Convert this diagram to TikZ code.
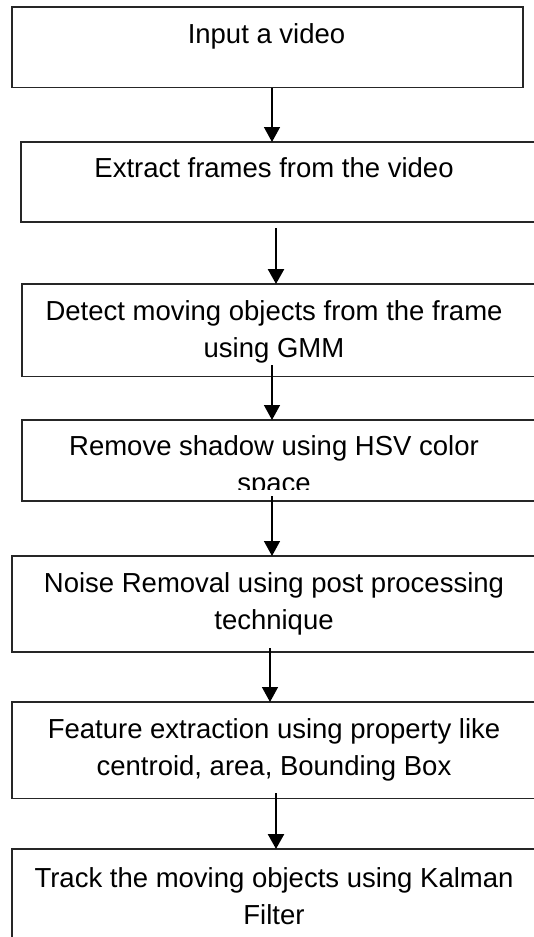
\documentclass[tikz,border=0pt]{standalone}
\usepackage{fontspec}
\setmainfont{Liberation Sans}
\usetikzlibrary{arrows.meta,positioning}

\begin{document}
\begin{tikzpicture}[x=1pt, y=-1pt, >={Triangle[width=16pt,length=15pt]},
    stepbox/.style={draw=black!85, line width=1.1pt, anchor=north west, outer sep=0pt, inner sep=0pt, minimum width=530pt},
    steptext/.style={anchor=base, align=center, inner sep=0pt, font=\fontsize{27.5}{37}\selectfont},
    flow/.style={->, line width=1.5pt},
    flowthick/.style={->, line width=2.5pt}]
    \useasboundingbox[fill=white] (0,0) rectangle (533,937);

    % Boxes
    \node[stepbox, minimum width=511pt, minimum height=80.5pt] (input) at (12,7) {};
    \node[stepbox, minimum height=80pt] (extract) at (21,142) {};
    \node[stepbox, minimum height=92.5pt] (detect) at (22,284) {};
    \node[stepbox, minimum height=81pt] (shadow) at (22,420) {};
    \node[stepbox, minimum height=96pt] (noise) at (12,556) {};
    \node[stepbox, minimum height=96.5pt] (feature) at (12,702) {};
    \node[stepbox, minimum height=120pt] (track) at (12,849) {};

    % Texts (base sits on the last line)
    \node[steptext] (inputtxt) at (266.5,43) {Input a video};
    \node[steptext] (extracttxt) at (274,177) {Extract frames from the video};
    \node[steptext] (detecttxt) at (274,357) {Detect moving objects from the frame\\using GMM};
    \begin{scope}
      \clip (0,420) rectangle (533,489);
      \node[steptext] (shadowtxt) at (274,492) {Remove shadow using HSV color\\space};
    \end{scope}
    \node[steptext] (noisetxt) at (274,629) {Noise Removal using post processing\\technique};
    \node[steptext] (featuretxt) at (274,775) {Feature extraction using property like\\centroid, area, Bounding Box};
    \node[steptext] (tracktxt) at (274,924) {Track the moving objects using Kalman\\Filter};

    % Arrows
    \coordinate (from1) at (272,88);
    \coordinate (from2) at (276,228);
    \coordinate (from3) at (272,365);
    \coordinate (from4) at (272,496);
    \coordinate (from5) at (270,648);
    \coordinate (from6) at (276,793);
    \draw[flow] (from1) -- (from1 |- extract.north);
    \draw[flowthick] (from2) -- (from2 |- detect.north);
    \draw[flow] (from3) -- (from3 |- shadow.north);
    \draw[flow] (from4) -- (from4 |- noise.north);
    \draw[flow] (from5) -- (from5 |- feature.north);
    \draw[flowthick] (from6) -- (from6 |- track.north);
\end{tikzpicture}
\end{document}
